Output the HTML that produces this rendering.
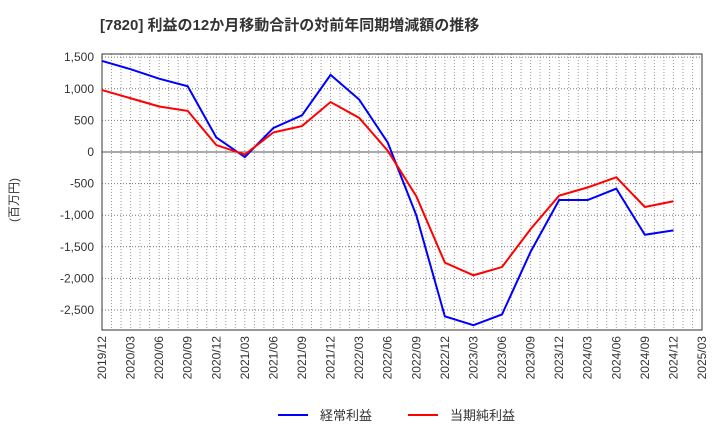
<!DOCTYPE html>
<html><head><meta charset="utf-8"><style>
body{margin:0;background:#fff;font-family:"Liberation Sans","Noto Sans CJK JP",sans-serif;}
svg text{font-family:"Liberation Sans","Noto Sans CJK JP",sans-serif;}
</style></head><body>
<svg id="c" width="720" height="440">
<text x="100" y="30" font-size="15" font-weight="bold" fill="#333">[7820]  利益の12か月移動合計の対前年同期増減額の推移</text>
<text x="18" y="200" font-size="12" fill="#333" transform="rotate(-90 18 200)" text-anchor="middle">(百万円)</text>
<g id="grid"></g><g id="axes"></g><g id="series"></g>
<g>
<line x1="278" y1="415" x2="308" y2="415" stroke="#0000ff" stroke-width="2"/>
<text x="320" y="420" font-size="13" fill="#333">経常利益</text>
<line x1="408" y1="415" x2="438" y2="415" stroke="#ff0000" stroke-width="2"/>
<text x="450" y="420" font-size="13" fill="#333">当期純利益</text>
</g>
</svg>
<script>
const categories=["2019/12","2020/03","2020/06","2020/09","2020/12","2021/03","2021/06","2021/09","2021/12","2022/03","2022/06","2022/09","2022/12","2023/03","2023/06","2023/09","2023/12","2024/03","2024/06","2024/09","2024/12","2025/03"];
const keijo=[1440,1310,1160,1040,230,-80,380,580,1220,830,150,-1000,-2600,-2740,-2570,-1580,-760,-760,-580,-1310,-1240];
const junri=[980,850,720,650,110,-40,310,410,790,540,20,-700,-1750,-1950,-1820,-1220,-690,-560,-400,-870,-780];
const yTicks=[1500,1000,500,0,-500,-1000,-1500,-2000,-2500];
const ns="http://www.w3.org/2000/svg";
const L=102,R=702,T=54,B=330,yMax=1550,yMin=-2816;
const xs=i=>L+i*(R-L)/(categories.length-1);
const ys=v=>T+(yMax-v)/(yMax-yMin)*(B-T);
function mk(tag,attrs,parent){const e=document.createElementNS(ns,tag);for(const k in attrs)e.setAttribute(k,attrs[k]);document.getElementById(parent).appendChild(e);return e;}
// monthly vertical grid
for(let m=1;m<(categories.length-1)*3;m++){const x=L+m*(R-L)/((categories.length-1)*3);
const g=mk('line',{x1:x,x2:x,y1:T,y2:B,stroke:'#999','stroke-dasharray':'1,2','stroke-width':1},'grid');

}
yTicks.forEach(v=>{const y=ys(v);
const g=mk('line',{x1:L,x2:R,y1:y,y2:y,stroke:v===0?'#555':'#777','stroke-dasharray':v===0?'':'1,2','stroke-width':1},'grid');


const t=mk('text',{x:L-8,y:y+4,'text-anchor':'end','font-size':12,fill:'#333'},'axes');t.textContent=v.toLocaleString('en-US');

});
const fr=mk('rect',{x:L,y:T,width:R-L,height:B-T,fill:'none',stroke:'#333','stroke-width':1},'axes');


categories.forEach((c,i)=>{const x=xs(i)+4,y=B+6;
const t=mk('text',{x:x,y:y,'text-anchor':'end','font-size':12,fill:'#333',transform:`rotate(-90 ${x} ${y})`},'axes');t.textContent=c;

});
function line(d,col,name){const p=mk('polyline',{points:d.map((v,i)=>xs(i)+','+ys(v)).join(' '),fill:'none',stroke:col,'stroke-width':2},'series');

}
line(keijo,'#0000ff','series-keijo-line');
line(junri,'#ff0000','series-junri-line');
</script>
</body></html>
